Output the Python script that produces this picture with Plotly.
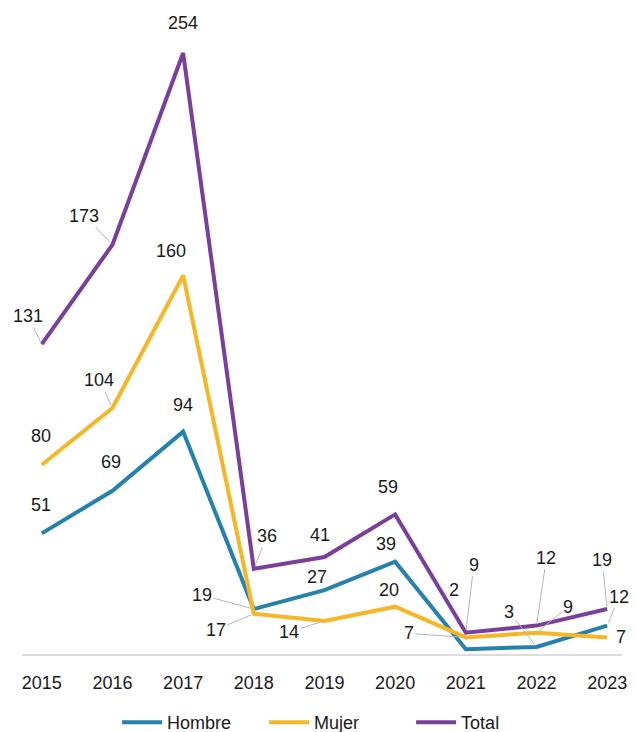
import plotly.graph_objects as go

years = [2015, 2016, 2017, 2018, 2019, 2020, 2021, 2022, 2023]
hombre = [51, 69, 94, 19, 27, 39, 2, 3, 12]
mujer = [80, 104, 160, 17, 14, 20, 7, 9, 7]
total = [131, 173, 254, 36, 41, 59, 9, 12, 19]

colors = {"Hombre": "#2581ad", "Mujer": "#f6b626", "Total": "#7a3f9d"}

# label offsets (px) and whether a leader line is drawn
label_style = {
    "Hombre": [(-1, -28, 0), (-1, -29, 0), (0, -27, 0), (-52, -14, 1), (-7, -13, 0),
               (-9, -18, 0), (-12, -59, 0), (-27, -35, 1), (12, -29, 1)],
    "Mujer": [(-1, -29, 0), (-13, -28, 1), (-12, -24, 0), (-38, 16, 1), (-35, 11, 1),
              (-6, -17, 0), (-57, -4, 1), (32, -26, 1), (14, 0, 0)],
    "Total": [(-14, -28, 1), (-28, -29, 1), (0, -30, 0), (13, -33, 1), (-4, -22, 0),
              (-7, -27, 0), (8, -68, 1), (10, -68, 1), (-5, -49, 1)],
}

series = [("Hombre", hombre), ("Mujer", mujer), ("Total", total)]

FONT = "Liberation Sans, Arial, sans-serif"
TXT = "#1a1a1a"

fig = go.Figure()
for name, vals in series:
    fig.add_trace(go.Scatter(x=years, y=vals, name=name, mode="lines",
                             line=dict(color=colors[name], width=4)))

annotations = []
for name, vals in series:
    for x, v, (ax, ay, lead) in zip(years, vals, label_style[name]):
        annotations.append(dict(
            x=x, y=v, xref="x", yref="y", text=str(v), showarrow=True,
            ax=ax, ay=ay, arrowhead=0, arrowwidth=1, standoff=3,
            arrowcolor="#b5b5b5" if lead else "rgba(0,0,0,0)",
            font=dict(size=18, color=TXT, family=FONT),
        ))

fig.update_layout(
    width=637, height=732,
    margin=dict(l=22, r=10, t=10, b=78),
    paper_bgcolor="white", plot_bgcolor="white",
    font=dict(family=FONT, size=18, color=TXT),
    annotations=annotations,
    showlegend=True,
    legend=dict(orientation="h", xref="container", yref="container",
                x=0.53, xanchor="center", y=0.013, yanchor="middle",
                font=dict(size=18, color=TXT), itemwidth=40,
                entrywidth=92, entrywidthmode="pixels",
                traceorder="normal"),
    xaxis=dict(range=[2014.72, 2023.21], tickvals=years, ticktext=[str(y) for y in years],
               showgrid=False, zeroline=False, showline=True, linecolor="#dcdcdc",
               linewidth=1.5, ticks="outside", ticklen=12, tickcolor="rgba(0,0,0,0)",
               tickfont=dict(size=18, color=TXT)),
    yaxis=dict(range=[0, 272.2], showgrid=False, zeroline=False, showline=False,
               showticklabels=False, ticks=""),
)

fig.write_html("out.html", config={"displayModeBar": False},
               post_script="document.body.style.margin='0';document.body.style.overflow='hidden';")
